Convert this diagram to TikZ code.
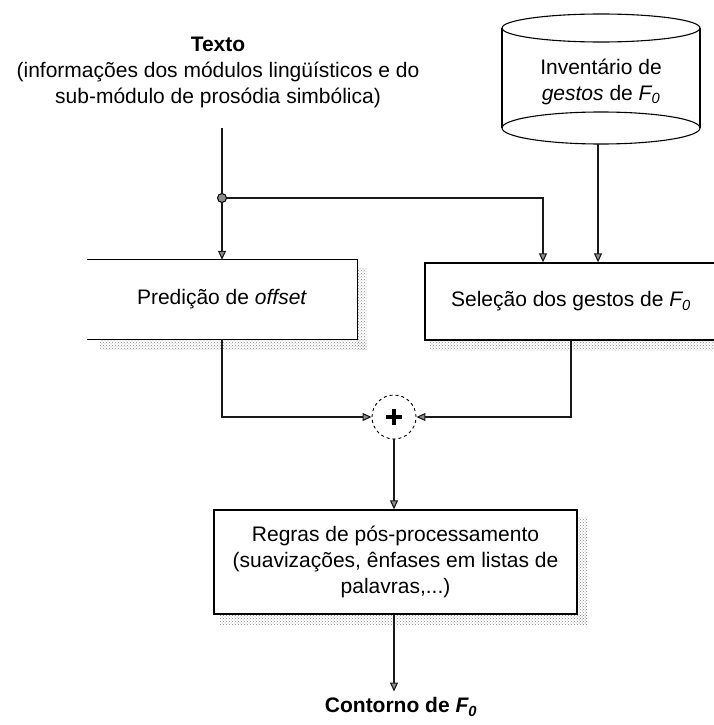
\documentclass[tikz,border=0pt]{standalone}
\usepackage{fontspec}
\setmainfont{Liberation Sans}
\usetikzlibrary{arrows.meta,patterns,calc}
\newcommand{\Fnull}{\textit{F\textsubscript{0}}}
\begin{document}
\begin{tikzpicture}[x=1pt,y=-1pt,
  every node/.style={font=\fontsize{21}{26}\selectfont, inner sep=0pt},
  blockbox/.style={rectangle, align=center},
  edge/.style={line width=1.7pt, black!90},
  arr/.style={edge, -{Triangle[open, length=9pt, width=8pt, line width=1.1pt, fill=black!45]}},
  shade/.style={pattern=crosshatch dots, pattern color=black!45},
]
\useasboundingbox (0,0) rectangle (714,725);

% input text
\node[align=center] (txt) at (218,72)
  {\textbf{Texto}\\(informações dos módulos lingüísticos e do\\sub-módulo de prosódia simbólica)};
\coordinate (t0) at (222,128);

% F0 gesture inventory (cylinder)
\draw[line width=1.1pt] (502,28) -- (502,128);
\draw[line width=1.1pt] (700,28) -- (700,128);
\draw[line width=1.1pt] (601,28) ellipse [x radius=99, y radius=14];
\draw[line width=1.1pt] (601,128) ellipse [x radius=99, y radius=16];
\node[align=center] (inv) at (601,82) {Inventário de\\\textit{gestos} de \Fnull};
\coordinate (invb) at (598,144);

% shadows of the blocks
\fill[shade] (357,268) rectangle (367,349);
\fill[shade] (100,339) rectangle (367,349);
\fill[shade] (430,340) rectangle (714,350);
\fill[shade] (577,517) rectangle (587,624);
\fill[shade] (220,614) rectangle (587,624);

% offset prediction
\node[blockbox, fill=white, minimum width=270, minimum height=79] (pred) at (222,299.5)
  {Predição de \textit{offset}};
\draw[line width=1.3pt] (pred.north west) -- (pred.north east) -- (pred.south east) -- (pred.south west);

% gesture selection
\node[blockbox, draw, line width=1.3pt, fill=white, minimum width=292, minimum height=77] (sel) at (571,301.5)
  {Seleção dos gestos de \Fnull};

% summation
\node[circle, draw, dashed, line width=0.9pt, fill=white, minimum size=44] (sum) at (394,417) {};
\draw[line width=3.2pt] ($(sum)+(-8,0)$) -- ($(sum)+(8,0)$);
\draw[line width=3.2pt] ($(sum)+(0,-8)$) -- ($(sum)+(0,8)$);

% post-processing
\node[blockbox, draw, line width=1.3pt, fill=white, minimum width=363, minimum height=104] (post) at (395.5,562)
  {Regras de pós-processamento\\(suavizações, ênfases em listas de\\palavras,...)};

% output
\node[font=\fontsize{21}{26}\selectfont\bfseries] (out) at (401,707) {Contorno de \Fnull};

% connectors
\node[circle, draw, line width=1pt, fill=black!45, minimum size=9] (jn) at (222,198) {};
\draw[edge] (t0) -- (jn);
\draw[arr] (jn) -- (pred.north);
\draw[arr] (jn) -| ([xshift=-28pt]sel.north);
\draw[arr] (invb) -- (invb |- sel.north);
\draw[arr] (pred.south) |- (sum.west);
\draw[arr] (sel.south) |- (sum.east);
\draw[arr] (sum.south) -- (sum |- post.north);
\draw[arr] (sum |- post.south) -- ($(sum |- out.north)+(0,-6)$);
\end{tikzpicture}
\end{document}
